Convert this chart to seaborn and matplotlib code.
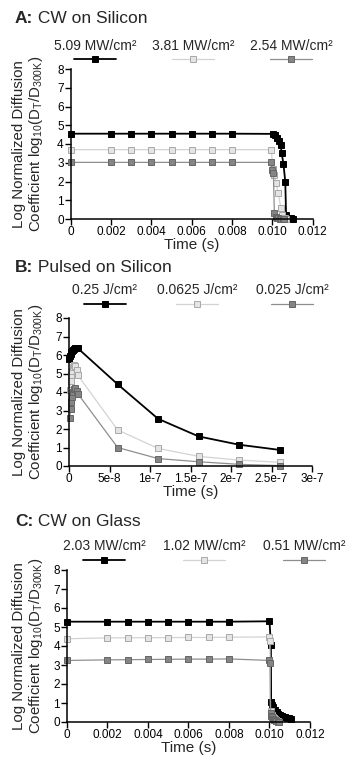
import matplotlib
matplotlib.use("Agg")
import matplotlib.pyplot as plt
import seaborn as sns

# ---------------- data ----------------
A_labels = ["5.09 MW/cm²", "3.81 MW/cm²", "2.54 MW/cm²"]
A_black_t = [0, 0.002, 0.003, 0.004, 0.005, 0.006, 0.007, 0.008, 0.01002, 0.01013, 0.01025,
             0.01035, 0.01041, 0.01046, 0.01055, 0.01064, 0.01068, 0.01079, 0.01091, 0.01104]
A_black_y = [4.55, 4.55, 4.55, 4.55, 4.55, 4.55, 4.55, 4.55, 4.54, 4.47, 4.33,
             4.16, 3.95, 3.54, 2.93, 2.00, 0.21, 0.07, 0.03, 0.02]
A_light_t = [0, 0.002, 0.003, 0.004, 0.005, 0.006, 0.007, 0.008, 0.00995, 0.01002, 0.01010,
             0.01018, 0.01030, 0.01041, 0.01048, 0.01055, 0.01062, 0.01070]
A_light_y = [3.70, 3.70, 3.70, 3.70, 3.70, 3.70, 3.70, 3.70, 3.70, 2.67, 2.37,
             1.91, 1.39, 0.60, 0.21, 0.08, 0.03, 0.01]
A_dark_t = [0, 0.002, 0.003, 0.004, 0.005, 0.006, 0.007, 0.008, 0.00993, 0.01000, 0.01005,
            0.01010, 0.01017, 0.01023, 0.01030, 0.01037, 0.01044, 0.01052, 0.01060]
A_dark_y = [3.02, 3.02, 3.02, 3.02, 3.02, 3.02, 3.02, 3.02, 3.02, 2.60, 2.44,
            0.33, 0.12, 0.05, 0.03, 0.02, 0.01, 0.01, 0.0]

B_labels = ["0.25 J/cm²", "0.0625 J/cm²", "0.025 J/cm²"]
B_black_t = [0, 1e-9, 2e-9, 3e-9, 4e-9, 5e-9, 6e-9, 8e-9, 1e-8, 1.1e-8, 6e-8, 1.1e-7, 1.6e-7, 2.1e-7, 2.6e-7]
B_black_y = [5.8, 5.95, 6.05, 6.15, 6.22, 6.28, 6.32, 6.36, 6.37, 6.36, 4.42, 2.55, 1.6, 1.15, 0.87]
B_light_t = [1e-9, 2e-9, 3e-9, 4e-9, 5e-9, 6e-9, 8e-9, 1e-8, 1.1e-8, 6e-8, 1.1e-7, 1.6e-7, 2.1e-7, 2.6e-7]
B_light_y = [4.1, 4.6, 4.9, 5.15, 5.35, 5.45, 5.4, 5.2, 4.9, 1.95, 0.95, 0.52, 0.32, 0.2]
B_dark_t = [1e-9, 2e-9, 3e-9, 4e-9, 5e-9, 6e-9, 8e-9, 1e-8, 1.1e-8, 6e-8, 1.1e-7, 1.6e-7, 2.1e-7, 2.6e-7]
B_dark_y = [2.6, 3.1, 3.45, 3.75, 4.0, 4.15, 4.2, 4.05, 3.9, 1.0, 0.4, 0.23, 0.09, 0.02]

C_labels = ["2.03 MW/cm²", "1.02 MW/cm²", "0.51 MW/cm²"]
C_black_t = [0, 0.002, 0.003, 0.004, 0.005, 0.006, 0.007, 0.008, 0.0100, 0.01007, 0.01008,
             0.01012, 0.01019, 0.01027, 0.01035, 0.01044, 0.01052, 0.01060, 0.01068, 0.01076,
             0.01085, 0.01094, 0.01104]
C_black_y = [5.28, 5.28, 5.28, 5.28, 5.28, 5.28, 5.28, 5.28, 5.30, 4.05, 1.07,
             0.88, 0.77, 0.63, 0.51, 0.42, 0.36, 0.31, 0.28, 0.25,
             0.23, 0.20, 0.18]
C_light_t = [0, 0.002, 0.003, 0.004, 0.005, 0.006, 0.007, 0.008, 0.0100, 0.01002, 0.01005,
             0.01009, 0.01013, 0.01018, 0.01023, 0.01028, 0.01034, 0.01040, 0.01046]
C_light_y = [4.38, 4.43, 4.43, 4.44, 4.44, 4.45, 4.45, 4.46, 4.48, 4.28, 0.60,
             0.45, 0.35, 0.27, 0.20, 0.14, 0.09, 0.05, 0.02]
C_dark_t = [0, 0.002, 0.003, 0.004, 0.005, 0.006, 0.007, 0.008, 0.0100, 0.01003, 0.01005,
            0.01009, 0.01013, 0.01018, 0.01023, 0.01028, 0.01034, 0.01040, 0.01046]
C_dark_y = [3.24, 3.27, 3.28, 3.29, 3.30, 3.31, 3.31, 3.32, 3.24, 3.12, 0.45,
            0.33, 0.25, 0.18, 0.12, 0.08, 0.05, 0.02, 0.01]

CW_ticks = [0, 0.002, 0.004, 0.006, 0.008, 0.010, 0.012]
CW_ticklabels = ["0", "0.002", "0.004", "0.006", "0.008", "0.010", "0.012"]
P_ticks = [0, 5e-8, 1e-7, 1.5e-7, 2e-7, 2.5e-7, 3e-7]
P_ticklabels = ["0", "5e-8", "1e-7", "1.5e-7", "2e-7", "2.5e-7", "3e-7"]
Y_ticks = [0, 1, 2, 3, 4, 5, 6, 7, 8]

titles = [("A:", " CW on Silicon"), ("B:", " Pulsed on Silicon"), ("C:", " CW on Glass")]

# ---------------- style ----------------
sns.set_style("ticks")
plt.rcParams["font.family"] = ["Liberation Sans", "DejaVu Sans"]
plt.rcParams["mathtext.fontset"] = "custom"
plt.rcParams["mathtext.rm"] = "Liberation Sans"
plt.rcParams["mathtext.it"] = "Liberation Sans:italic"
plt.rcParams["mathtext.bf"] = "Liberation Sans:bold"
plt.rcParams["mathtext.default"] = "regular"

W, H = 347, 757
fig = plt.figure(figsize=(W / 100, H / 100), dpi=100)
renderer = fig.canvas.get_renderer()

styles = [
    dict(color="#000000", linewidth=1.3, markerfacecolor="#000000", markeredgecolor="#000000"),
    dict(color="#d3d3d3", linewidth=0.9, markerfacecolor="#e4e4e4", markeredgecolor="#a8a8a8"),
    dict(color="#8e8e8e", linewidth=0.9, markerfacecolor="#858585", markeredgecolor="#666666"),
]

# axes boxes in pixels: left, right, top(y=8), bottom(y=0)
boxes = [(70.7, 312.7, 69, 219), (69, 312, 318, 466), (67, 310, 570, 722)]
title_y = [23, 272, 526]
legend_cx = [[95, 193, 291], [105, 197, 292], [104, 204, 304]]
legend_cy = [52.5, 297.5, 553]

panels = [
    (A_labels, [(A_black_t, A_black_y), (A_light_t, A_light_y), (A_dark_t, A_dark_y)],
     0.012, CW_ticks, CW_ticklabels),
    (B_labels, [(B_black_t, B_black_y), (B_light_t, B_light_y), (B_dark_t, B_dark_y)],
     3e-7, P_ticks, P_ticklabels),
    (C_labels, [(C_black_t, C_black_y), (C_light_t, C_light_y), (C_dark_t, C_dark_y)],
     0.012, CW_ticks, CW_ticklabels),
]

for i, (labels, series, xmax, xt, xtl) in enumerate(panels):
    l, r, t, b = boxes[i]
    ax = fig.add_axes([l / W, 1 - b / H, (r - l) / W, (b - t) / H])
    handles = []
    for (tx, ty), st in zip(series, styles):
        sns.lineplot(x=tx, y=ty, ax=ax, marker="s", markersize=3.8, markeredgewidth=0.7,
                     sort=False, estimator=None, clip_on=False, **st)
        handles.append(ax.lines[-1])
    ax.set_xlim(0, xmax)
    ax.set_ylim(0, 8)
    ax.set_xticks(xt)
    ax.set_xticklabels(xtl)
    ax.set_yticks(Y_ticks)
    sns.despine(ax=ax)
    for s in ["left", "bottom"]:
        ax.spines[s].set_linewidth(1.1)
        ax.spines[s].set_color("black")
    ax.tick_params(axis="both", direction="out", length=4, width=1, pad=1,
                   labelsize=8.5, colors="black")
    ax.set_xlabel("Time (s)", fontsize=11, labelpad=0)
    ax.set_ylabel("Log Normalized Diffusion\nCoefficient log$_{10}$(D$_{T}$/D$_{300K}$)",
                  fontsize=10.8, linespacing=1.05)
    ax.yaxis.set_label_coords((45 - l) / (r - l), 0.5)

    for j, (h, lab) in enumerate(zip(handles, labels)):
        leg = ax.legend(handles=[h], labels=[""], title=lab, loc="center",
                        bbox_to_anchor=(legend_cx[i][j] / W, 1 - legend_cy[i] / H),
                        bbox_transform=fig.transFigure, frameon=False,
                        prop={"size": 10}, title_fontsize=10, handlelength=3.0,
                        handletextpad=0, labelspacing=0, borderpad=0, handleheight=0.5,
                        borderaxespad=0)
        if j < len(labels) - 1:
            ax.add_artist(leg)

    letter, name = titles[i]
    t1 = fig.text(15 / W, 1 - title_y[i] / H, letter, fontsize=12.5, fontweight="bold",
                  va="baseline", ha="left")
    bb = t1.get_window_extent(renderer=renderer)
    fig.text(bb.x1 / W, 1 - title_y[i] / H, name, fontsize=12.5,
             va="baseline", ha="left")

fig.savefig("out.png", dpi=100)
